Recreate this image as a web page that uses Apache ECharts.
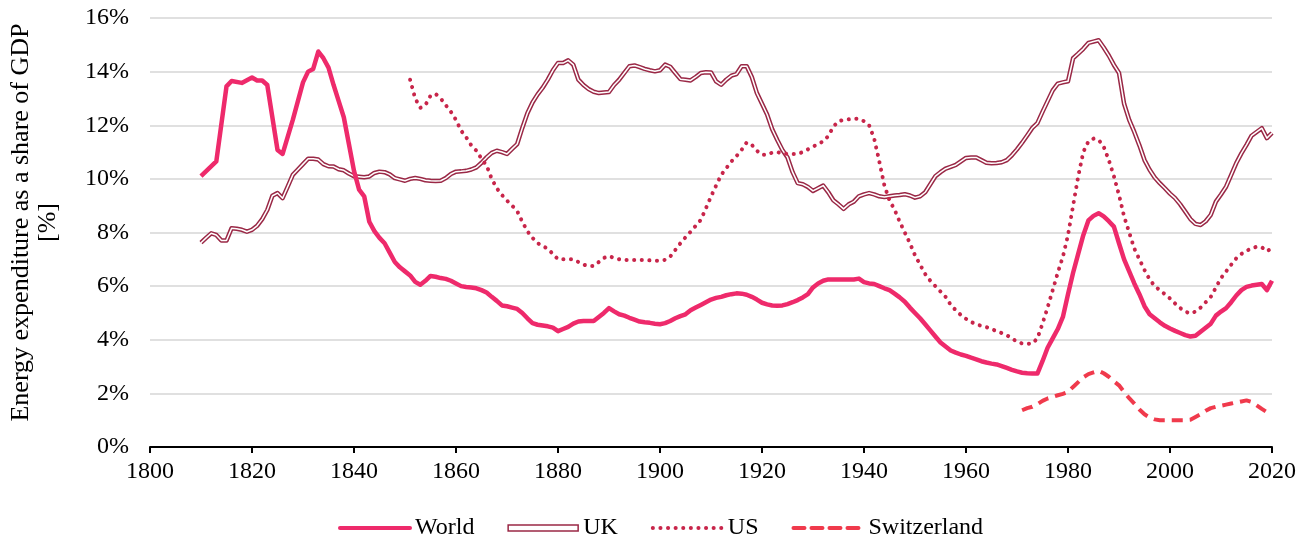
<!DOCTYPE html>
<html>
<head>
<meta charset="utf-8">
<script src="https://cdn.jsdelivr.net/npm/echarts@6/dist/echarts.min.js"></script>
<style>
  html, body { margin: 0; padding: 0; background: #fff; }
  #chart { width: 1309px; height: 537px; }
</style>
</head>
<body>
<div id="chart"></div>
<script>
// 数据：能源支出占GDP比例（%）
var worldYears = [1810, 1813, 1815, 1816, 1818, 1820, 1821, 1822, 1823, 1825, 1826, 1828, 1830, 1831, 1832, 1833, 1834, 1835, 1836, 1837, 1838, 1839,
    1840, 1841, 1842, 1843, 1844, 1845, 1846, 1847, 1848, 1849, 1850, 1851, 1852, 1853, 1854, 1855, 1856, 1857, 1858, 1859,
    1860, 1861, 1862, 1863, 1864, 1865, 1866, 1867, 1868, 1869, 1870, 1871, 1872, 1873, 1874, 1875, 1876, 1877, 1878, 1879,
    1880, 1881, 1882, 1883, 1884, 1885, 1886, 1887, 1888, 1889, 1890, 1891, 1892, 1893, 1894, 1895, 1896, 1897, 1898, 1899,
    1900, 1901, 1902, 1903, 1904, 1905, 1906, 1907, 1908, 1909, 1910, 1911, 1912, 1913, 1914, 1915, 1916, 1917, 1918, 1919,
    1920, 1921, 1922, 1923, 1924, 1925, 1926, 1927, 1928, 1929, 1930, 1931, 1932, 1933, 1934, 1935, 1936, 1937, 1938, 1939,
    1940, 1941, 1942, 1943, 1944, 1945, 1946, 1947, 1948, 1949, 1950, 1951, 1952, 1953, 1954, 1955, 1956, 1957, 1958, 1959,
    1960, 1961, 1962, 1963, 1964, 1965, 1966, 1967, 1968, 1969, 1970, 1971, 1972, 1973, 1974, 1975, 1976, 1977, 1978, 1979,
    1980, 1981, 1982, 1983, 1984, 1985, 1986, 1987, 1988, 1989, 1990, 1991, 1992, 1993, 1994, 1995, 1996, 1997, 1998, 1999,
    2000, 2001, 2002, 2003, 2004, 2005, 2006, 2007, 2008, 2009, 2010, 2011, 2012, 2013, 2014, 2015, 2016, 2017, 2018, 2019, 2020];
var worldValues = [10.1, 10.65, 13.45, 13.65, 13.58, 13.78, 13.67, 13.67, 13.5, 11.08, 10.93, 12.2, 13.6, 14.0, 14.1, 14.75, 14.5, 14.15, 13.5, 12.9, 12.3, 11.3,
    10.3, 9.6, 9.35, 8.4, 8.05, 7.8, 7.6, 7.25, 6.9, 6.7, 6.55, 6.4, 6.16, 6.05, 6.2, 6.38, 6.35, 6.3, 6.27, 6.2,
    6.1, 6.0, 5.97, 5.95, 5.92, 5.85, 5.76, 5.6, 5.45, 5.28, 5.25, 5.2, 5.15, 5.0, 4.8, 4.62, 4.56, 4.53, 4.5, 4.45,
    4.32, 4.4, 4.48, 4.6, 4.68, 4.7, 4.7, 4.7, 4.85, 5.0, 5.18, 5.06, 4.95, 4.9, 4.82, 4.75, 4.68, 4.65, 4.63, 4.6,
    4.58, 4.62, 4.7, 4.8, 4.88, 4.95, 5.1, 5.2, 5.3, 5.4, 5.5, 5.56, 5.6, 5.66, 5.7, 5.73, 5.72, 5.68, 5.6, 5.5,
    5.38, 5.32, 5.28, 5.27, 5.28, 5.33, 5.4, 5.48, 5.58, 5.7, 5.95, 6.1, 6.2, 6.25, 6.25, 6.25, 6.25, 6.25, 6.25, 6.28,
    6.15, 6.1, 6.08, 6.0, 5.92, 5.85, 5.72, 5.58, 5.42, 5.2, 5.0, 4.8, 4.58, 4.35, 4.12, 3.9, 3.75, 3.6, 3.52, 3.45,
    3.4, 3.33, 3.27, 3.2, 3.15, 3.11, 3.08, 3.02, 2.95, 2.88, 2.82, 2.77, 2.75, 2.74, 2.74, 3.2, 3.7, 4.05, 4.4, 4.85,
    5.7, 6.5, 7.2, 7.9, 8.45, 8.62, 8.72, 8.6, 8.42, 8.22, 7.6, 7.0, 6.55, 6.1, 5.7, 5.25, 4.95, 4.8, 4.65, 4.52,
    4.42, 4.33, 4.25, 4.17, 4.12, 4.15, 4.3, 4.45, 4.6, 4.9, 5.05, 5.18, 5.4, 5.65, 5.85, 5.97, 6.02, 6.05, 6.08, 5.85, 6.2];

var ukStart = 1810;
var ukValues = [7.62, 7.8, 7.97, 7.91, 7.7, 7.7, 8.16, 8.14, 8.1, 8.03,
    8.1, 8.25, 8.5, 8.84, 9.37, 9.47, 9.28, 9.71, 10.15, 10.35,
    10.55, 10.75, 10.75, 10.72, 10.55, 10.47, 10.46, 10.36, 10.32, 10.2,
    10.1, 10.08, 10.06, 10.09, 10.22, 10.27, 10.25, 10.17, 10.03, 9.98,
    9.93, 10.0, 10.03, 10.0, 9.95, 9.93, 9.92, 9.93, 10.03, 10.18,
    10.27, 10.28, 10.3, 10.35, 10.43, 10.6, 10.8, 10.97, 11.05, 11.0,
    10.93, 11.12, 11.3, 11.9, 12.45, 12.85, 13.15, 13.4, 13.7, 14.05,
    14.32, 14.32, 14.42, 14.26, 13.7, 13.5, 13.35, 13.25, 13.2, 13.22,
    13.24, 13.5, 13.7, 13.95, 14.2, 14.23, 14.17, 14.1, 14.05, 14.01,
    14.05, 14.26, 14.18, 13.95, 13.72, 13.7, 13.67, 13.8, 13.95, 13.98,
    13.97, 13.64, 13.51, 13.7, 13.85, 13.91, 14.2, 14.2, 13.8, 13.2,
    12.8, 12.4, 11.85, 11.45, 11.08, 10.8, 10.25, 9.84, 9.8, 9.7,
    9.55, 9.65, 9.75, 9.5, 9.2, 9.05, 8.88, 9.05, 9.15, 9.35,
    9.42, 9.47, 9.42, 9.35, 9.32, 9.35, 9.38, 9.4, 9.43, 9.38,
    9.3, 9.35, 9.5, 9.8, 10.1, 10.25, 10.38, 10.45, 10.52, 10.65,
    10.78, 10.8, 10.8, 10.7, 10.6, 10.58, 10.59, 10.62, 10.7, 10.88,
    11.1, 11.35, 11.62, 11.9, 12.08, 12.5, 12.9, 13.3, 13.55, 13.6,
    13.64, 14.5, 14.67, 14.85, 15.07, 15.12, 15.17, 14.9, 14.6, 14.25,
    13.95, 12.8, 12.2, 11.75, 11.25, 10.7, 10.34, 10.05, 9.84, 9.65,
    9.45, 9.28, 9.05, 8.78, 8.5, 8.32, 8.28, 8.42, 8.66, 9.15,
    9.42, 9.71, 10.15, 10.59, 10.95, 11.27, 11.61, 11.75, 11.89, 11.52,
    11.71];

var usStart = 1851;
var usValues = [13.7, 13.0, 12.65, 12.75, 13.1, 13.17, 13.0, 12.75, 12.5,
    12.2, 11.8, 11.55, 11.25, 11.05, 10.75, 10.5, 10.0, 9.65, 9.4,
    9.19, 9.0, 8.8, 8.4, 8.05, 7.8, 7.6, 7.5, 7.39, 7.2,
    7.0, 7.0, 7.0, 7.0, 6.9, 6.8, 6.75, 6.75, 6.9, 7.05,
    7.12, 7.05, 7.0, 6.97, 6.97, 6.97, 6.97, 6.97, 6.96, 6.95,
    6.95, 6.98, 7.1, 7.35, 7.6, 7.82, 8.03, 8.25, 8.47, 8.9,
    9.34, 9.75, 10.15, 10.4, 10.65, 10.85, 11.08, 11.36, 11.27, 11.05,
    10.9, 10.9, 10.98, 11.0, 10.95, 10.93, 10.93, 10.93, 11.0, 11.1,
    11.2, 11.3, 11.4, 11.6, 11.95, 12.15, 12.2, 12.22, 12.24, 12.24,
    12.15, 12.0, 11.5, 10.65, 9.75, 9.2, 8.85, 8.4, 8.0, 7.6,
    7.15, 6.8, 6.45, 6.2, 6.0, 5.8, 5.6, 5.3, 5.1, 4.92,
    4.78, 4.66, 4.58, 4.52, 4.47, 4.4, 4.32, 4.25, 4.17, 4.05,
    3.93, 3.86, 3.85, 3.86, 4.05, 4.6, 5.2, 5.85, 6.5, 7.1,
    7.9, 9.0, 10.09, 11.0, 11.4, 11.5, 11.46, 11.2, 10.7, 10.1,
    9.4, 8.6, 8.0, 7.4, 7.0, 6.6, 6.25, 6.0, 5.85, 5.7,
    5.54, 5.35, 5.18, 5.05, 4.98, 5.05, 5.2, 5.4, 5.6, 5.95,
    6.3, 6.55, 6.8, 7.04, 7.2, 7.32, 7.4, 7.47, 7.45, 7.3,
    7.42];

var swissStart = 1971;
var swissValues = [1.37, 1.45, 1.5, 1.6, 1.72, 1.81, 1.87, 1.93, 1.98,
    2.05, 2.24, 2.42, 2.6, 2.72, 2.78, 2.84, 2.75, 2.62, 2.45,
    2.3, 2.05, 1.82, 1.62, 1.4, 1.22, 1.1, 1.03, 1.0, 1.0,
    1.0, 1.0, 1.0, 1.0, 1.02, 1.12, 1.22, 1.35, 1.45, 1.5,
    1.54, 1.58, 1.62, 1.66, 1.7, 1.74, 1.68, 1.55, 1.42, 1.3];

var legendNames = ['World', 'UK', 'US', 'Switzerland'];

function pairs(years, values) {
    return values.map(function (v, i) { return [years[i], v]; });
}
function fromStart(start, values) {
    return values.map(function (v, i) { return [start + i, v]; });
}

var FONT = 'Liberation Serif';
var myChart = echarts.init(document.getElementById('chart'));

var option = {
    animation: false,
    backgroundColor: '#fff',
    textStyle: { fontFamily: FONT },
    grid: { left: 147, right: 37, top: 18, bottom: 90 },
    legend: {
        data: [
            legendNames[0],
            { name: legendNames[1], icon: 'rect', itemStyle: { color: '#fff', borderColor: '#9A2846', borderWidth: 1.5, opacity: 1 } },
            legendNames[2],
            legendNames[3]
        ],
        left: 333,
        top: 511,
        itemWidth: 70,
        itemHeight: 6,
        itemGap: 33,
        selectedMode: false,
        itemStyle: { opacity: 0 },  // 隐藏图例中的圆点
        lineStyle: { width: 4, cap: 'round' },
        textStyle: { fontFamily: FONT, fontSize: 24, color: '#000' }
    },
    xAxis: {
        type: 'value',
        min: 1800,
        max: 2020,
        interval: 20,
        axisLine: { lineStyle: { color: '#000', width: 2 } },
        axisTick: { show: true, length: 6, lineStyle: { color: '#000', width: 2 } },
        splitLine: { show: false },
        axisLabel: {
            fontFamily: FONT, fontSize: 24, color: '#000', margin: 13,
            formatter: function (v) { return String(v); }
        }
    },
    yAxis: {
        type: 'value',
        min: 0,
        max: 16,
        interval: 2,
        name: 'Energy expenditure as a share of GDP\n[%]',
        nameLocation: 'middle',
        nameRotate: 90,
        nameGap: 88,
        nameTextStyle: { fontFamily: FONT, fontSize: 26, color: '#000', lineHeight: 27, padding: [0, 0, 0, 20] },
        axisLine: { show: false },
        axisTick: { show: false },
        splitLine: { lineStyle: { color: '#d6d6d6', width: 1.5 } },
        axisLabel: { fontFamily: FONT, fontSize: 24, color: '#000', margin: 21, formatter: '{value}%' }
    },
    series: [
        {
            name: 'UK',
            type: 'line',
            data: fromStart(ukStart, ukValues),
            symbol: 'none',
            lineStyle: { color: '#9A2846', width: 4.5, join: 'round' },
            itemStyle: { color: '#9A2846' },
            z: 2
        },
        {
            // 白色内线，形成双线效果
            name: 'UK-inner',
            type: 'line',
            data: fromStart(ukStart, ukValues),
            symbol: 'none',
            silent: true,
            lineStyle: { color: '#fff', width: 1.5, join: 'round' },
            z: 3
        },
        {
            name: 'US',
            type: 'line',
            data: fromStart(usStart, usValues),
            symbol: 'none',
            lineStyle: { color: '#C8254A', width: 4, type: [0.1, 7.5], cap: 'round' },
            itemStyle: { color: '#C8254A' },
            z: 4
        },
        {
            name: 'World',
            type: 'line',
            data: pairs(worldYears, worldValues),
            symbol: 'none',
            lineStyle: { color: '#EE2A6B', width: 4.5, join: 'round' },
            itemStyle: { color: '#EE2A6B' },
            z: 5
        },
        {
            name: 'Switzerland',
            type: 'line',
            data: fromStart(swissStart, swissValues),
            symbol: 'none',
            lineStyle: { color: '#F03A4C', width: 4, type: [11, 7] },
            itemStyle: { color: '#F03A4C' },
            z: 6
        }
    ]
};

myChart.setOption(option);
</script>
</body>
</html>
